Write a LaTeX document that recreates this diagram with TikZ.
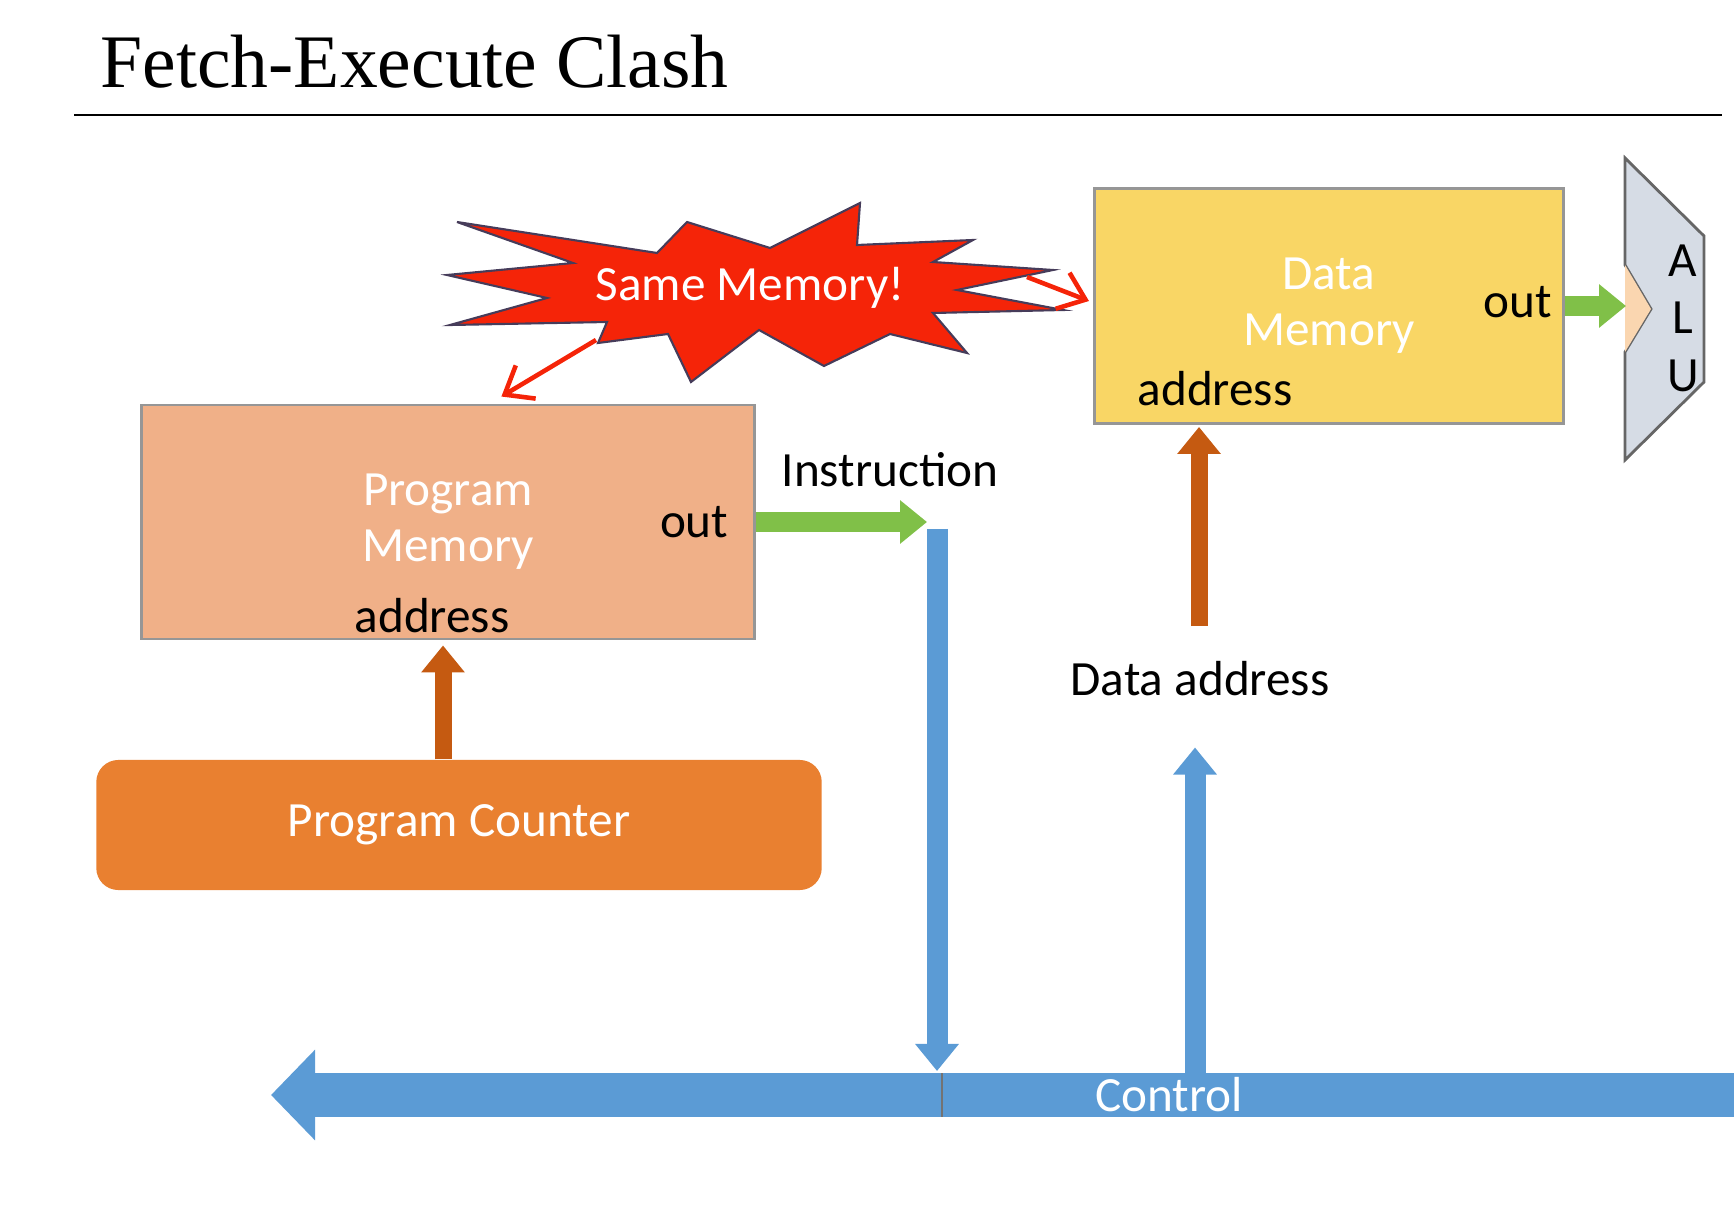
\documentclass[tikz,border=0pt]{standalone}
\usepackage{fontspec}
\setmainfont{Carlito}
\newfontfamily\titlefont{Liberation Serif}
\usetikzlibrary{positioning,calc,arrows.meta}
\definecolor{pmfill}{RGB}{240,176,136}
\definecolor{pcfill}{RGB}{233,128,48}
\definecolor{dmfill}{RGB}{249,214,101}
\definecolor{busblue}{RGB}{91,155,213}
\definecolor{datagreen}{RGB}{128,192,72}
\definecolor{addrbrown}{RGB}{197,90,17}
\definecolor{clashred}{RGB}{245,36,8}
\definecolor{alufill}{RGB}{214,220,229}
\definecolor{alupeach}{RGB}{250,214,176}
\definecolor{boxline}{RGB}{150,150,150}
\tikzset{fat arrow/.style={line width=0.19cm,-{Triangle[width=0.42cm,length=0.27cm]}},
 data edge/.style={fat arrow,draw=datagreen},
 addr edge/.style={fat arrow,draw=addrbrown,line width=0.17cm},
 bus edge/.style={fat arrow,draw=busblue,line width=0.21cm},
 clash edge/.style={draw=clashred,line width=1.3pt,-{Straight Barb[length=7pt,width=11pt]}}}

\begin{document}
\begin{tikzpicture}[x=0.01cm,y=-0.01cm,
 every node/.style={font=\fontsize{14}{16}\selectfont},
 mem/.style={draw=boxline,line width=0.8pt,text=white,align=center,inner sep=0pt},
 lbl/.style={text=black,inner sep=1pt}]
\useasboundingbox (0,0) rectangle (1734,1213);

% title and rule
\node[font=\titlefont\fontsize{21.5}{24}\selectfont,anchor=base west,inner sep=0pt] (title) at (100,88) {Fetch-Execute Clash};
\draw[line width=0.8pt] (74,115) -- (1722,115);

% blocks
\node[mem,fill=pmfill,minimum width=6.12cm,minimum height=2.34cm] (PM) at (448,522) {Program\\Memory};
\node[mem,fill=dmfill,minimum width=4.69cm,minimum height=2.35cm] (DM) at (1329,306) {Data\\Memory};
\node[fill=pcfill,rounded corners=0.22cm,text=white,minimum width=7.25cm,minimum height=1.3cm] (PC) at (459,825) {Program Counter};

\node[lbl,left=0.23cm of PM.east] (PMout) {out};
\node[lbl] (PMaddr) at (432,616) {address};
\node[lbl] (instr) at (890,470) {Instruction};
\node[lbl] (DMout) at (1518,302) {out};
\node[lbl] (DMaddr) at (1215,389) {address};
\node[lbl] (dataaddr) at (1200,679) {Data address};

% ALU
\draw[fill=alufill,draw=black!60,line width=0.8pt] (1625,158) -- (1704,236) -- (1704,382) -- (1625,460) -- (1625,352) -- (1651,309) -- (1625,265) -- cycle;
\fill[alupeach] (1625,265) -- (1651,309) -- (1625,352) -- cycle;
\coordinate (aluin) at (1626,307);
\node (aluA) at (1683,261) {A};
\node (aluL) at (1683,318) {L};
\node (aluU) at (1683,376) {U};

% the clash
\draw[fill=clashred,draw={rgb,255:red,70;green,60;blue,90},line width=0.6pt]
 (457,222) -- (657,253) -- (687,222) -- (770,248) -- (860,203) -- (857,245) -- (973,240) -- (933,262)
 -- (1053,270) -- (957,290) -- (1063,310) -- (933,313) -- (967,353) -- (890,334) -- (824,366) -- (759,330)
 -- (691,382) -- (668,334) -- (598,343) -- (607,322) -- (450,325) -- (547,298) -- (447,275) -- (573,263) -- cycle;
\node[text=white] (same) at (750,288) {Same Memory!};
\coordinate (burstSW) at (596,340);
\coordinate (burstE) at (1027,277);

% bus
\coordinate (busR) at (1734,1095);
\coordinate (busL) at (271,1095);
\coordinate (drop) at (937,529);
\coordinate (rise) at (1195,1073);
\coordinate (dmup) at (1199,626);
\draw[busblue,line width=0.44cm,-{Triangle[width=0.88cm,length=0.44cm]}] (busR) -- (busL);
\draw[black!55,line width=0.4pt] ($(drop |- busL)+(5,-22)$) -- ($(drop |- busL)+(5,22)$);
\node[text=white] (ctrl) at (1169,1095) {Control};

% connectors
\draw[addr edge] ($(PC.north)+(-16,0)$) -- ($(PM.south)+(-5,5)$);
\draw[data edge] (PM.east) -- ($(PM.east -| drop)+(-10,0)$);
\draw[bus edge] (drop) -- ($(drop |- busL)+(0,-24)$);
\draw[bus edge] (rise) -- ($(rise |- dataaddr.south)+(0,47)$);
\draw[addr edge] (dmup) -- ($(dmup |- DM.south)+(0,2)$);
\draw[data edge] (DM.east) -- (DM.east -| aluin);
\draw[clash edge] (burstSW) -- ($(PM.north west)+(361,-7)$);
\draw[clash edge] (burstE) -- ($(DM.west)+(-4,-5)$);
\end{tikzpicture}
\end{document}
